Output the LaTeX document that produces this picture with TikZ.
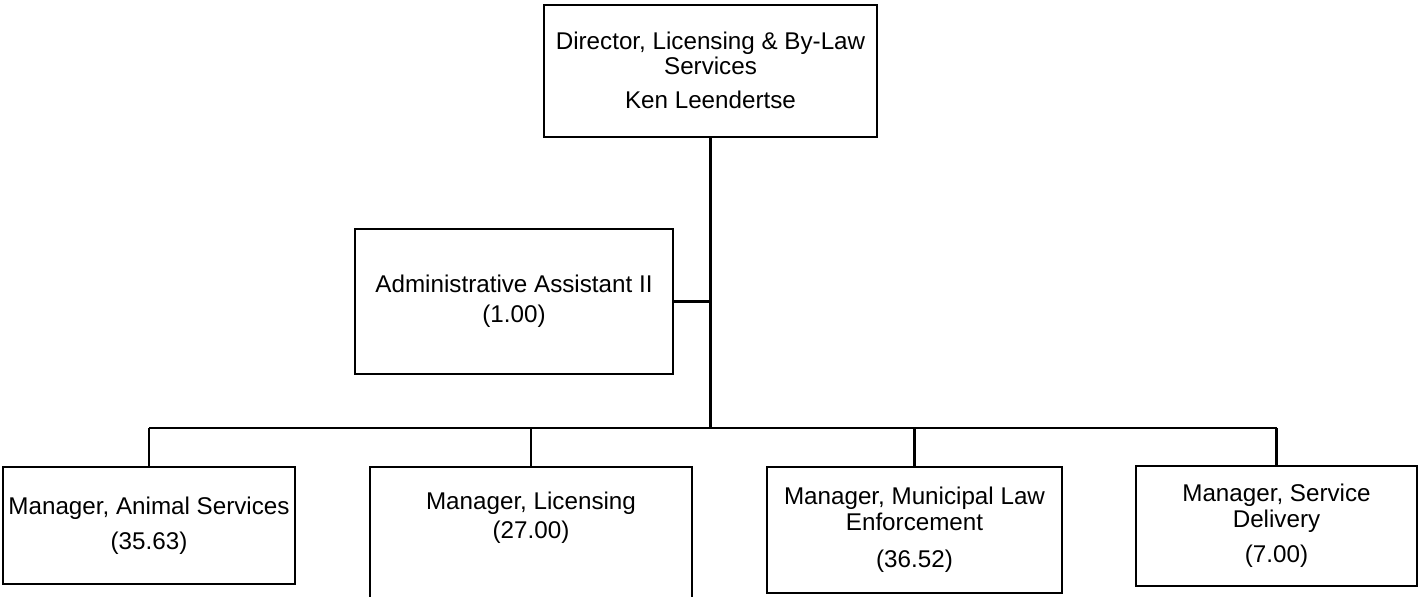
\documentclass[tikz,border=0pt]{standalone}
\usepackage{fontspec}
\setmainfont{Liberation Sans}
\newcommand\orgfont{\fontsize{12.1pt}{13pt}\selectfont}
\begin{document}
\begin{tikzpicture}[x=0.5pt,y=-0.5pt,
  box/.style={draw,line width=1.1pt,rectangle,inner sep=0pt,align=center,font=\orgfont},
  txt/.style={inner sep=0pt,align=center,font=\orgfont},
  conn/.style={line width=1.1pt}]
\useasboundingbox (0,0) rectangle (1422,597);
\clip (0,0) rectangle (1422,597);
\node[box,minimum width=166.5pt,minimum height=66pt] (dir) at (710.5,71) {};
\node[txt] (dirtxt) at (710.5,70) {Director, Licensing \& By-Law\\[-0.5pt]Services\\[4pt]Ken Leendertse};
\node[box,minimum width=159pt,minimum height=72.5pt] (adm) at (514,301.5) {Administrative Assistant II\\[2pt](1.00)};
\node[box,minimum width=146pt,minimum height=58.5pt] (b1) at (149,525.5) {Manager, Animal Services\\[4.5pt](35.63)};
\node[box,minimum width=161pt,minimum height=69pt] (b2) at (531,536) {Manager, Licensing\\[1.5pt](27.00)\\[8pt]\mbox{}};
\node[box,minimum width=147.5pt,minimum height=63pt] (b3) at (914.5,530) {Manager, Municipal Law\\Enforcement\\[5.5pt](36.52)};
\node[box,minimum width=140.5pt,minimum height=60pt] (b4) at (1276.5,526) {Manager, Service\\Delivery\\[4.5pt](7.00)};
\coordinate (bus) at (710,428);
\draw[conn] (dir.south) -- (dir.south |- bus);
\draw[conn] (adm.east) -- (adm.east -| dir.south);
\draw[conn] (b1.north |- bus) -- (b4.north |- bus);
\draw[conn] (b1.north) -- (b1.north |- bus);
\draw[conn] (b2.north) -- (b2.north |- bus);
\draw[conn] (b3.north) -- (b3.north |- bus);
\draw[conn] (b4.north) -- (b4.north |- bus);
\end{tikzpicture}
\end{document}
